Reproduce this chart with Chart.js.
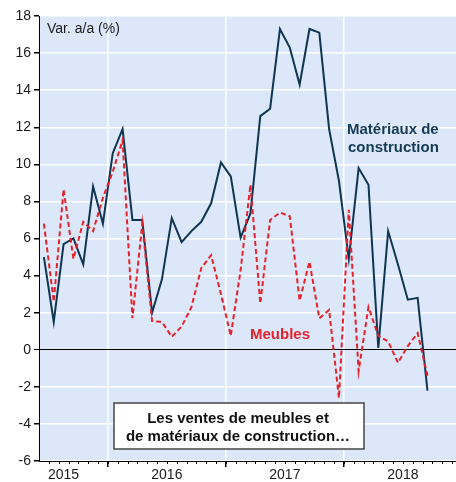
<!DOCTYPE html>
<html>
<head>
<meta charset="utf-8">
<script src="https://cdn.jsdelivr.net/npm/chart.js@4.4.1/dist/chart.umd.min.js"></script>
<style>
html, body { margin: 0; padding: 0; background: #fff; }
#wrap { width: 456px; height: 482px; }
</style>
</head>
<body>
<div id="wrap"><canvas id="canvas"></canvas></div>
<script>
// mois (juin 2015 - sept 2018)
var mois = ["2015-06","2015-07","2015-08","2015-09","2015-10","2015-11","2015-12",
    "2016-01","2016-02","2016-03","2016-04","2016-05","2016-06","2016-07","2016-08","2016-09","2016-10","2016-11","2016-12",
    "2017-01","2017-02","2017-03","2017-04","2017-05","2017-06","2017-07","2017-08","2017-09","2017-10","2017-11","2017-12",
    "2018-01","2018-02","2018-03","2018-04","2018-05","2018-06","2018-07","2018-08","2018-09"];

var materiaux = [5.0, 1.5, 5.7, 6.0, 4.6, 8.8, 6.8,
    10.6, 11.9, 7.0, 7.0, 2.0, 3.8, 7.1, 5.8, 6.4, 6.9, 7.9, 10.1,
    9.35, 6.05, 7.35, 12.6, 13.0, 17.3, 16.3, 14.3, 17.3, 17.1, 11.9, 9.1,
    4.9, 9.8, 8.9, 0.1, 6.4, 4.6, 2.7, 2.8, -2.2];

var meubles = [6.8, 2.6, 8.65, 4.9, 6.9, 6.4, 8.2,
    9.6, 11.3, 1.7, 6.8, 1.55, 1.5, 0.7, 1.25, 2.3, 4.4, 5.1, 3.0,
    0.75, 4.3, 8.9, 2.5, 7.0, 7.4, 7.2, 2.65, 4.75, 1.7, 2.15, -2.6,
    7.55, -1.15, 2.3, 0.75, 0.45, -0.7, 0.2, 0.9, -1.4];

var annees = ["2015", "2016", "2017", "2018"];
var yTicks = [-6, -4, -2, 0, 2, 4, 6, 8, 10, 12, 14, 16, 18];

var FONT = "'Liberation Sans', Arial, sans-serif";

// limites d'année (entre décembre et janvier)
var limites = [];
mois.forEach(function (m, i) {
    if (i > 0 && m.slice(5) === "01") limites.push(i - 0.5);
});
var xMin = -0.5, xMax = 41.9;

function serie(vals) {
    return vals.map(function (v, i) { return { x: i, y: v }; });
}

var fond = {
    id: 'fond',
    beforeDraw: function (chart) {
        var a = chart.chartArea, ctx = chart.ctx;
        ctx.save();
        ctx.fillStyle = '#dce8fa';
        ctx.fillRect(a.left, a.top, a.right - a.left, a.bottom - a.top);
        ctx.restore();
    }
};

var textes = {
    id: 'textes',
    afterDraw: function (chart) {
        var ctx = chart.ctx, x = chart.scales.x, a = chart.chartArea;
        ctx.save();
        // petits traits mensuels
        ctx.strokeStyle = '#000';
        ctx.lineWidth = 1;
        for (var v = xMin + 1; v < xMax; v += 1) {
            var px = Math.round(x.getPixelForValue(v)) + 0.5;
            ctx.beginPath();
            ctx.moveTo(px, a.bottom);
            ctx.lineTo(px, a.bottom + 3);
            ctx.stroke();
        }
        ctx.textBaseline = 'alphabetic';
        ctx.fillStyle = '#1a1a1a';
        ctx.font = '14px ' + FONT;
        ctx.textAlign = 'left';
        ctx.fillText('Var. a/a (%)', 47, 33);

        ctx.font = 'bold 15px ' + FONT;
        ctx.fillStyle = '#143a55';
        ctx.fillText('Matériaux de', 347, 134);
        ctx.fillText('construction', 348, 152);

        ctx.fillStyle = '#e5222b';
        ctx.fillText('Meubles', 250, 339);

        // encadré
        ctx.fillStyle = '#fff';
        ctx.fillRect(114, 403, 250, 46);
        ctx.strokeStyle = '#444';
        ctx.lineWidth = 1.5;
        ctx.strokeRect(114, 403, 250, 46);
        ctx.fillStyle = '#111';
        ctx.textAlign = 'center';
        ctx.fillText('Les ventes de meubles et', 238, 423);
        ctx.fillText('de matériaux de construction…', 238, 441);
        ctx.restore();
    }
};

window.onload = function () {
    var ctx = document.getElementById("canvas").getContext("2d");
    window.myLine = new Chart(ctx, {
        type: 'line',
        data: {
            datasets: [
                {
                    label: "Meubles",
                    data: serie(meubles),
                    borderColor: '#e5222b',
                    borderWidth: 2,
                    borderDash: [5, 3],
                    pointRadius: 0,
                    tension: 0,
                    fill: false
                },
                {
                    label: "Matériaux de construction",
                    data: serie(materiaux),
                    borderColor: '#0f3550',
                    borderWidth: 2,
                    pointRadius: 0,
                    tension: 0,
                    fill: false
                }
            ]
        },
        options: {
            responsive: true,
            maintainAspectRatio: false,
            animation: false,
            devicePixelRatio: 1,
            layout: { padding: { top: 16, right: 0, left: 0, bottom: 0 } },
            plugins: { legend: { display: false }, tooltip: { enabled: false } },
            scales: {
                x: {
                    type: 'linear',
                    min: xMin,
                    max: xMax,
                    afterBuildTicks: function (scale) {
                        var t = limites.map(function (v) { return { value: v, kind: 'lim' }; });
                        var centres = [2];
                        for (var k = 0; k < limites.length; k++) {
                            var fin = k + 1 < limites.length ? limites[k + 1] : limites[k] + 12;
                            centres.push((limites[k] + fin) / 2);
                        }
                        centres.forEach(function (c, k) {
                            t.push({ value: c, kind: 'an', an: annees[k] });
                        });
                        scale.ticks = t;
                    },
                    afterFit: function (scale) { scale.height = 21; },
                    ticks: {
                        autoSkip: false,
                        maxRotation: 0,
                        padding: 0,
                        color: '#1a1a1a',
                        font: { family: FONT, size: 14 },
                        callback: function (v, i, ticks) {
                            return ticks[i].kind === 'an' ? ticks[i].an : '';
                        }
                    },
                    grid: {
                        color: function (c) { return c.tick && c.tick.kind === 'lim' ? '#ffffff' : 'rgba(0,0,0,0)'; },
                        tickColor: function (c) { return c.tick && c.tick.kind === 'lim' ? '#000' : 'rgba(0,0,0,0)'; },
                        lineWidth: 1.5,
                        tickLength: 6
                    },
                    border: { display: true, color: '#000', width: 1 }
                },
                y: {
                    min: -6,
                    max: 18,
                    afterBuildTicks: function (scale) {
                        scale.ticks = yTicks.map(function (v) { return { value: v }; });
                    },
                    afterFit: function (scale) { scale.width = 39; },
                    ticks: {
                        padding: 3,
                        color: '#1a1a1a',
                        font: { family: FONT, size: 14 }
                    },
                    grid: {
                        color: function (c) { return c.tick && c.tick.value === 0 ? '#000' : '#ffffff'; },
                        lineWidth: function (c) { return c.tick && c.tick.value === 0 ? 1 : 1.5; },
                        tickColor: '#000',
                        tickLength: 5
                    },
                    border: { display: true, color: '#000', width: 1 }
                }
            }
        },
        plugins: [fond, textes]
    });
};
</script>
</body>
</html>
